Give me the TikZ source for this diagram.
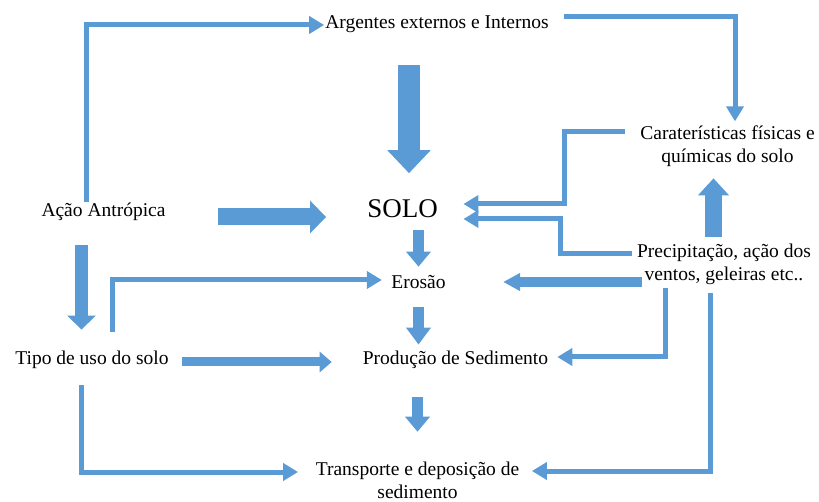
\documentclass[tikz,border=0pt]{standalone}
\usepackage{fontspec}
\setmainfont{Liberation Serif}
\usetikzlibrary{arrows.meta}
\definecolor{flowblue}{RGB}{91,155,213}

\begin{document}
\begin{tikzpicture}[x=1pt, y=-1pt,
    txt/.style={font=\fontsize{19.5}{23}\selectfont, inner sep=1pt, align=center},
    thinlink/.style={draw=flowblue, line width=5pt, -{Triangle[length=15pt,width=17pt]}},
    blockarrow/.style n args={3}{draw=flowblue, line width=#1, -{Triangle[length=#2,width=#3]}}]

    \useasboundingbox (0,0) rectangle (819,502);

    % Texts
    \node[txt, anchor=base] (arg) at (437,29) {Argentes externos e Internos};
    \node[txt, anchor=base] (acao) at (103.5,217) {Ação Antrópica};
    \node[txt, anchor=base, font=\fontsize{27}{30}\selectfont] (solo) at (402.5,218) {SOLO};
    \node[txt, anchor=base] (erosao) at (418.5,289) {Erosão};
    \node[txt, anchor=base] (prod) at (455.5,364) {Produção de Sedimento};
    \node[txt, anchor=base] (tipo) at (92,364) {Tipo de uso do solo};
    \node[txt] (carac) at (727.5,146) {Caraterísticas físicas e\\químicas do solo};
    \node[txt] (precip) at (724,264) {Precipitação, ação dos\\ventos, geleiras etc..};
    \node[txt] (transp) at (417.5,480) {Transporte e deposição de\\sedimento};

    % Thin connectors
    \draw[thinlink] (acao.north -| 86,0) |- (arg.west |- 0,25);
    \draw[thinlink, shorten <=14pt, shorten >=3pt] (arg.east |- 0,17) -| (carac.north -| 735,0);
    \draw[thinlink, shorten <=14pt, shorten >=24.5pt] (carac.west |- 0,132) -- (564,132) |- (solo.east |- 0,204);
    \draw[thinlink, shorten <=4pt, shorten >=24.5pt] (precip.west |- 0,254) -- (560,254) |- (solo.east |- 0,219);
    \draw[thinlink, shorten <=2.7pt, shorten >=8pt] (precip.south -| 665,0) |- (prod.east |- 0,357);
    \draw[thinlink, shorten <=7.7pt, shorten >=11.5pt] (precip.south -| 710,0) |- (transp.east |- 0,471);
    \draw[thinlink, shorten <=17.7pt, shorten >=8.4pt] (tipo.north -| 112,0) |- (erosao.west |- 0,280);
    \draw[thinlink, shorten <=15.7pt, shorten >=16.5pt] (tipo.south -| 81,0) |- (transp.west |- 0,472);

    % Block arrows
    \draw[blockarrow={22pt}{23pt}{42pt}, shorten <=30.7pt, shorten >=25.7pt] (arg.south -| 409,0) -- (solo.north -| 409,0);
    \draw[blockarrow={17pt}{16pt}{32pt}, shorten <=51.5pt, shorten >=40pt] (acao.east |- 0,217) -- (solo.west |- 0,217);
    \draw[blockarrow={11pt}{15pt}{24pt}, shorten <=10.6pt, shorten >=8pt] (solo.south -| erosao.north) -- (erosao.north);
    \draw[blockarrow={11pt}{17pt}{24pt}, shorten <=16.8pt, shorten >=4.7pt] (erosao.south) -- (prod.north -| erosao.south);
    \draw[blockarrow={11pt}{15pt}{24pt}, shorten <=27.8pt, shorten >=28.7pt] (prod.south -| transp.north) -- (transp.north);
    \draw[blockarrow={13pt}{14pt}{28pt}, shorten <=22.7pt, shorten >=19.7pt] (acao.south -| 81.5,0) -- (tipo.north -| 81.5,0);
    \draw[blockarrow={9pt}{12pt}{20pt}, shorten <=12pt, shorten >=30pt] (tipo.east |- 0,362) -- (prod.west |- 0,362);
    \draw[blockarrow={17pt}{17pt}{30pt}, shorten <=5.7pt, shorten >=10.7pt] (precip.north -| 713.5,0) -- (carac.south -| 713.5,0);
    \draw[blockarrow={9.5pt}{17pt}{17pt}, shorten <=-6pt, shorten >=56.4pt] (precip.west |- 0,282) -- (erosao.east |- 0,282);

\end{tikzpicture}
\end{document}
